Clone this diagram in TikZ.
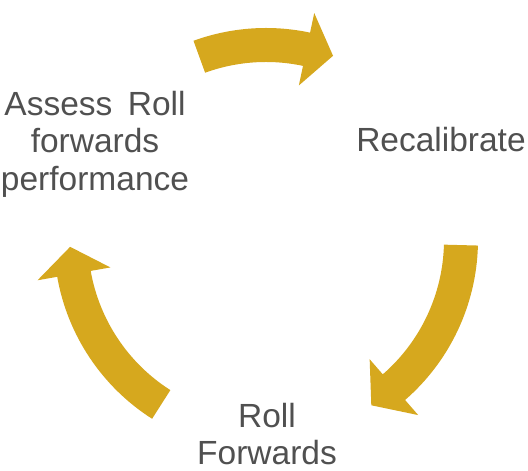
\documentclass[tikz,border=0pt]{standalone}
\usepackage{fontspec}
\setmainfont{Liberation Sans}
\definecolor{arrowgold}{RGB}{214,168,30}
\definecolor{labelgrey}{RGB}{80,80,80}
\tikzset{
  cyclearrowstyle/.style={fill=arrowgold, draw=none},
  labelstyle/.style={text=labelgrey, inner sep=0pt, align=center,
    font=\fontsize{33.5pt}{37.5pt}\selectfont}
}
% #1 tail angle, #2 head base angle, #3 tip angle (clockwise)
\newcommand\mycyclearrow[3]{%
  \fill[cyclearrowstyle] (#1:212pt) arc[start angle=#1, end angle=#2, radius=212pt]
    -- (#2:232pt) -- (#3:196pt) -- (#2:158pt) -- (#2:178pt)
    arc[start angle=#2, end angle=#1, radius=178pt] -- cycle;}
\begin{document}
\begin{tikzpicture}
\useasboundingbox (0pt,0pt) rectangle (528pt,471pt);
\begin{scope}[shift={(266pt,231pt)}]
  \coordinate (ctr) at (0,0);
  \mycyclearrow{110}{78}{70}
  \mycyclearrow{-1.5}{-49}{-57.5}
  \mycyclearrow{237.5}{190}{182}
\end{scope}
\node[labelstyle] (assess) at (95pt,327pt) {Assess\hspace{0.46em}Roll\\forwards\\performance};
\node[labelstyle, anchor=base] (recal) at (441pt,319pt) {Recalibrate};
\node[labelstyle] (rollfwd) at (267pt,37pt) {Roll\\Forwards};
\end{tikzpicture}
\end{document}
